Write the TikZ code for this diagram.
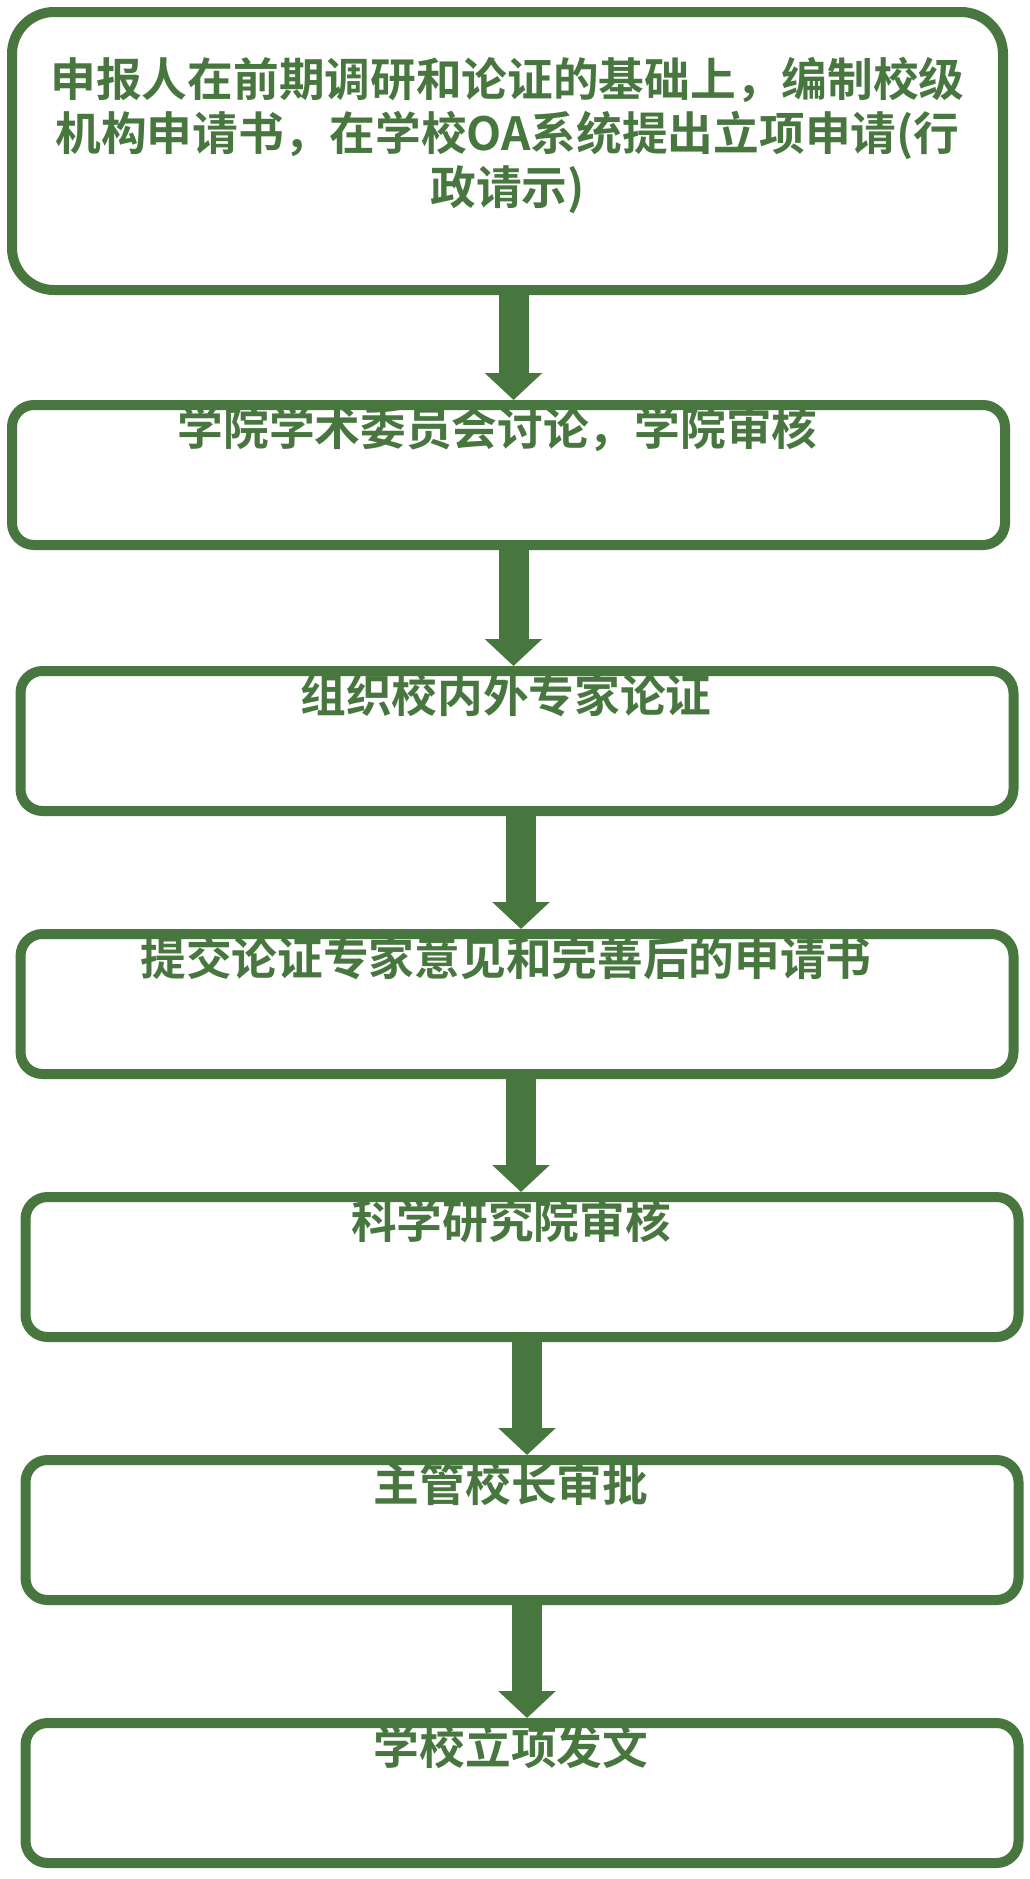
\documentclass[tikz,border=0pt]{standalone}
\usepackage{fontspec}
\setmainfont{Noto Sans CJK SC}[BoldFont={* Bold}]
\usepackage{xcolor}
\usepackage{tikz}
\usetikzlibrary{arrows.meta,positioning}
\definecolor{flowgreen}{RGB}{71,118,63}

\begin{document}
\begin{tikzpicture}[x=1pt,y=-1pt,>={Triangle[width=56pt,length=27pt]},node distance=113pt,
	stepbox/.style={draw=flowgreen,line width=10pt,rounded corners=22pt,minimum width=993pt,minimum height=140pt,inner sep=0pt},
	steptext/.style={text=flowgreen,font=\fontsize{45.7}{54}\selectfont\bfseries,align=center,inner sep=0pt},
	flow/.style={->,color=flowgreen,line width=30pt}]
	\useasboundingbox (0,0) rectangle (1030,1879);
	\node[stepbox,minimum width=991pt,minimum height=278pt,rounded corners=42pt] (s1) at (507.5,151) {};
	\node[stepbox] (s2) [below=105pt of s1,xshift=1pt] {};
	\node[stepbox] (s3) [below=116pt of s2,xshift=8.5pt] {};
	\node[stepbox] (s4) [below=of s3] {};
	\node[stepbox] (s5) [below=of s4,xshift=5pt] {};
	\node[stepbox] (s6) [below=of s5] {};
	\node[stepbox] (s7) [below=of s6] {};
	
	\node[steptext] (t1) at ([yshift=16pt]s1.center) {申报人在前期调研和论证的基础上，编制校级\\机构申请书，在学校OA系统提出立项申请(行\\政请示)};
	\node[steptext] (t2) at ([xshift=-11pt,yshift=-29pt]s2.north) {学院学术委员会讨论，学院审核};
	\node[steptext] (t3) at ([xshift=-11pt,yshift=-29pt]s3.north) {组织校内外专家论证};
	\node[steptext] (t4) at ([xshift=-11pt,yshift=-29pt]s4.north) {提交论证专家意见和完善后的申请书};
	\node[steptext] (t5) at ([xshift=-11pt,yshift=-29pt]s5.north) {科学研究院审核};
	\node[steptext] (t6) at ([xshift=-11pt,yshift=-29pt]s6.north) {主管校长审批};
	\node[steptext] (t7) at ([xshift=-11pt,yshift=-29pt]s7.north) {学校立项发文};
	
	\path[flow]
	([xshift=6pt]s1.south) edge ([xshift=6pt]s1.south |- s2.north)
	([xshift=5pt]s2.south) edge ([xshift=5pt]s2.south |- s3.north)
	([xshift=4pt]s3.south) edge ([xshift=4pt]s3.south |- s4.north)
	([xshift=4pt]s4.south) edge ([xshift=4pt]s4.south |- s5.north)
	([xshift=5pt]s5.south) edge ([xshift=5pt]s5.south |- s6.north)
	([xshift=5pt]s6.south) edge ([xshift=5pt]s6.south |- s7.north);
\end{tikzpicture}
\end{document}
